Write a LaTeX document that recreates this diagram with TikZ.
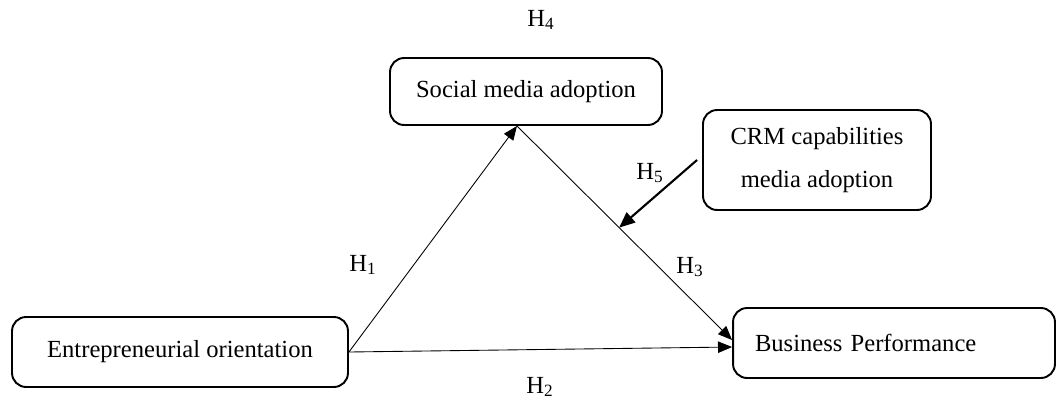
\documentclass[tikz,border=0pt]{standalone}
\usepackage{fontspec}
\setmainfont{Liberation Serif}
\usetikzlibrary{arrows.meta,calc}
\tikzset{
  construct/.style={draw,line width=1.1pt,rounded corners=8pt,inner sep=0pt,
    font=\fontsize{14}{17}\selectfont},
  hyp/.style={font=\fontsize{14}{17}\selectfont},
  path/.style={-{Triangle[length=8pt,width=6.5pt]},line width=0.5pt},
}
\begin{document}
\begin{tikzpicture}[x=0.02cm,y=-0.02cm]
\useasboundingbox (0,0) rectangle (1058,400);
\node [construct,minimum width=5.44cm,minimum height=1.34cm] (sma) at (526,91.5)
   {Social media adoption};
\node [construct,minimum width=4.56cm,minimum height=2.0cm,align=center,
   font=\fontsize{14}{24}\selectfont] (crm) at (817,160)
   {CRM capabilities\\media adoption};
\node [construct,minimum width=6.72cm,minimum height=1.4cm] (eo) at (180,352)
   {Entrepreneurial orientation};
\node [construct,minimum height=1.4cm,text width=5.56cm,inner xsep=0.44cm,
   align=left] (bp) at (894,343) {Business Performance};
\coordinate (smaIn) at ([xshift=-0.18cm]sma.south);
\coordinate (bpTop) at ([yshift=0.06cm]bp.west);
\coordinate (bpMid) at ([yshift=-0.08cm]bp.west);
\coordinate (mod) at ($(smaIn)!0.475!(bpTop)$);
\draw [path] (eo.east) -- (smaIn);
\draw [path] (eo.east) -- (bpMid);
\draw [path] (smaIn) -- (bpTop);
\draw [-{Triangle[length=9pt,width=7.5pt]},line width=1.2pt]
   ([xshift=-0.1cm]crm.west) -- (mod);
\node [hyp] (h1) at (363,265) {H\textsubscript{1}};
\node [hyp] (h2) at (540,387) {H\textsubscript{2}};
\node [hyp] (h3) at (690,267) {H\textsubscript{3}};
\node [hyp] (h4) at (541,20) {H\textsubscript{4}};
\node [hyp] (h5) at (650,173) {H\textsubscript{5}};
\end{tikzpicture}
\end{document}
